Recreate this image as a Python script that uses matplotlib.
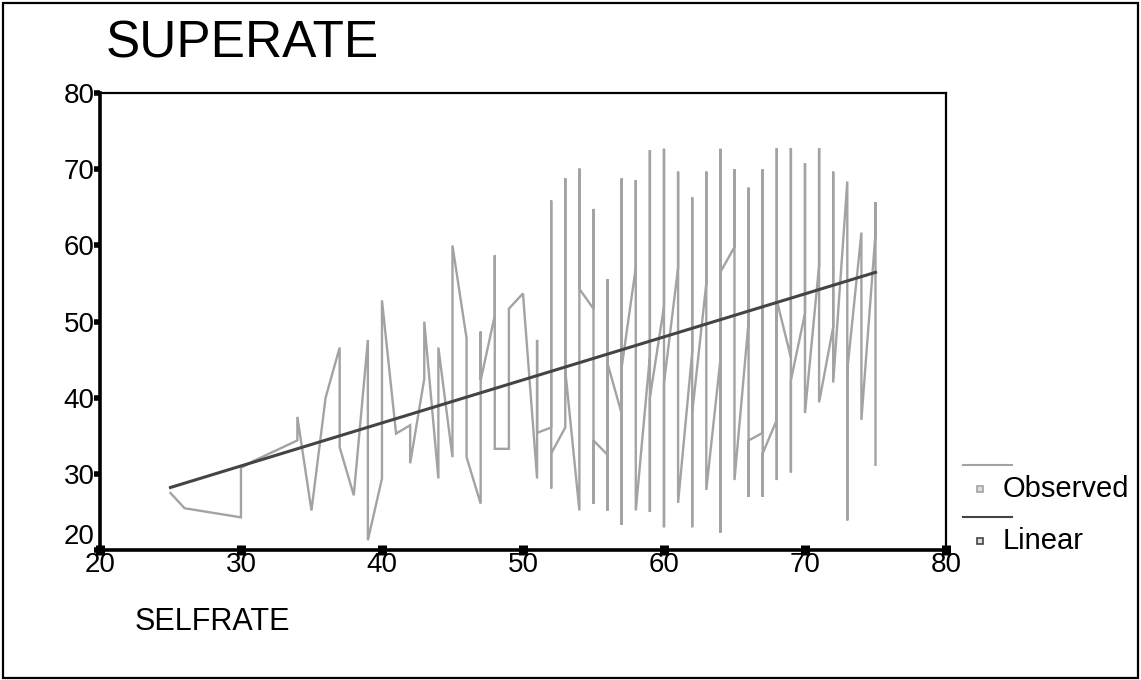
import numpy as np
import matplotlib.pyplot as plt
from matplotlib.lines import Line2D
from matplotlib.patches import Rectangle

plt.rcParams['font.family'] = ['Liberation Sans', 'DejaVu Sans']

# SELFRATE levels present in the sample and the SUPERATE scores at each
# level, in the order the observed curve passes through them
selfrate_levels = [25, 26, 30, 31, 34, 35, 36, 37, 38, 39, 40, 41, 42, 43, 44,
                   45, 46, 47, 48, 49, 50, 51, 52, 53, 54, 55, 56, 57, 58, 59,
                   60, 61, 62, 63, 64, 65, 66, 67, 68, 69, 70, 71, 72, 73, 74, 75]
superate_at_level = [
    [27.5], [25.5], [24.3, 30.8], [31.8], [34.4, 37.5], [25.2], [40.0],
    [46.6, 33.5], [27.2], [47.6, 21.3], [29.4, 52.8], [35.3], [36.4, 31.4],
    [42.5, 50.0], [29.4, 46.6], [32.2, 60.0], [47.8, 32.2], [26.1, 48.7, 42.3],
    [50.8, 58.7, 33.3], [33.3, 51.7], [53.7], [29.4, 47.6, 35.4],
    [36.1, 65.9, 28.1, 32.7], [36.1, 68.8, 43.6], [25.2, 70.1, 54.3],
    [51.7, 64.8, 26.1, 34.4], [32.5, 55.6, 25.2, 44.5], [37.9, 68.8, 23.3, 44.0],
    [57.1, 68.6, 25.2], [45.5, 72.5, 25.0, 40.0], [52.0, 72.7, 23.0, 41.9],
    [57.1, 69.7, 26.2], [46.0, 66.3, 23.0, 38.0], [55.0, 69.7, 27.9],
    [45.0, 72.7, 22.3, 56.5], [59.8, 70.0, 29.2], [50.0, 67.6, 27.0, 34.4],
    [35.4, 70.0, 27.0, 32.7], [37.1, 72.8, 29.2, 52.8], [45.3, 72.8, 30.2, 42.3],
    [51.1, 70.8, 38.0], [57.4, 72.8, 39.4], [49.3, 69.7, 42.0],
    [68.4, 23.9, 43.6], [61.7, 37.1], [61.6, 65.7, 31.2],
]

# linear model SUPERATE = b0 + b1 * SELFRATE
b0 = 14.1
b1 = 0.565

x_ticks = [20, 30, 40, 50, 60, 70, 80]
y_ticks = [20, 30, 40, 50, 60, 70, 80]

obs_x = np.concatenate([[lv] * len(ys) for lv, ys in zip(selfrate_levels, superate_at_level)])
obs_y = np.concatenate(superate_at_level)
fit_x = np.array(selfrate_levels, dtype=float)
fit_y = b0 + b1 * fit_x

obs_color = '#a3a3a3'
fit_color = '#444444'

fig = plt.figure(figsize=(11.41, 6.8), dpi=100)
fig.add_artist(Rectangle((0.003, 0.003), 0.994, 0.992, transform=fig.transFigure,
                         fill=False, edgecolor='black', linewidth=1.6))

ax = fig.add_axes([0.0876, 0.191, 0.7415, 0.672])
ax.plot(obs_x, obs_y, color=obs_color, linewidth=1.7, solid_joinstyle='miter')
ax.plot(fit_x, fit_y, color=fit_color, linewidth=2.2)

ax.set_xlim(20, 80)
ax.set_ylim(20, 80)
ax.set_xticks(x_ticks)
ax.set_yticks(y_ticks)
ax.set_xticklabels([str(t) for t in x_ticks], fontsize=20)
ax.set_yticklabels([str(t) for t in y_ticks], fontsize=20)

for side in ['left', 'bottom']:
    ax.spines[side].set_linewidth(2.6)
for side in ['top', 'right']:
    ax.spines[side].set_linewidth(1.6)

ax.tick_params(axis='y', direction='out', length=4, width=4, pad=0)
ax.tick_params(axis='x', direction='inout', length=7, width=6.5, pad=-2)
# the lowest y label sits a little higher so it clears the x labels
ax.get_yticklabels()[0].set_verticalalignment('bottom')

fig.text(0.093, 0.935, 'SUPERATE', fontsize=37, va='center', ha='left')
fig.text(0.118, 0.085, 'SELFRATE', fontsize=22, va='center', ha='left')

# legend block to the right of the plot
for y_line, y_mark, label, col in [(0.316, 0.281, 'Observed', obs_color),
                                   (0.239, 0.204, 'Linear', fit_color)]:
    fig.add_artist(Line2D([0.844, 0.887], [y_line, y_line], transform=fig.transFigure,
                          color=col, linewidth=1.5))
    fig.add_artist(Line2D([0.859], [y_mark], transform=fig.transFigure, marker='s',
                          markersize=4, markerfacecolor='#dddddd', markeredgecolor=col,
                          markeredgewidth=1.2, linestyle='none'))
    fig.text(0.879, y_mark, label, fontsize=21, va='center', ha='left')

fig.savefig('out.png', dpi=100)
